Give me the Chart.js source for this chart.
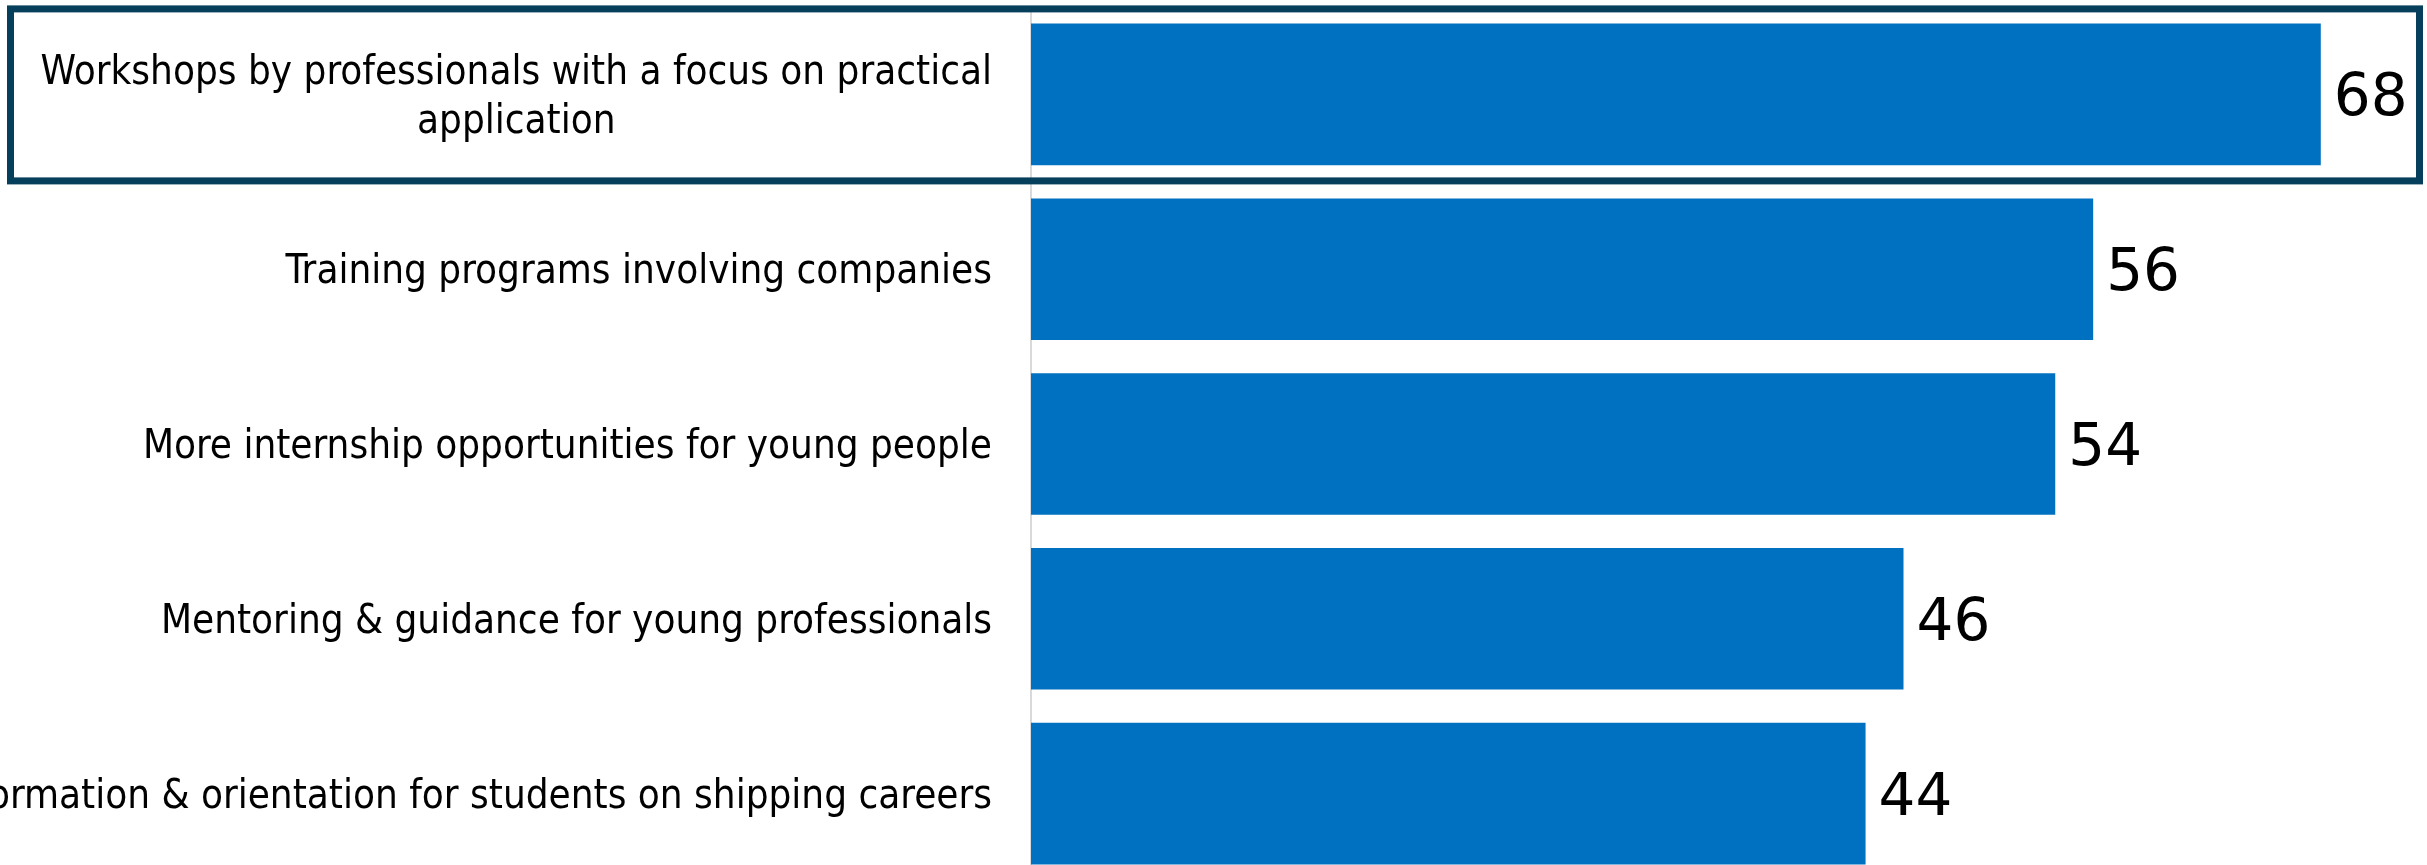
<!DOCTYPE html>
<html>
<head>
    <meta charset="utf-8">
    <title>Measures to attract young people</title>
    <script src="https://cdn.jsdelivr.net/npm/chart.js"></script>
    <style>
        html, body {
            margin: 0;
            padding: 0;
            background: #ffffff;
            overflow: hidden;
        }
        .chart-box {
            position: relative;
            width: 2427px;
            height: 890px;
        }
    </style>
</head>
<body>
    <div class="chart-box">
        <canvas id="barChart"></canvas>
    </div>

    <script>
        // 類別與數值
        const categories = [
            ['Workshops by professionals with a focus on practical', 'application'],
            'Training programs involving companies',
            'More internship opportunities for young people',
            'Mentoring & guidance for young professionals',
            'Information & orientation for students on shipping careers'
        ];
        const values = [68, 56, 54, 46, 44];

        // 被框起來的項目
        const highlighted = [0];

        const labelFont = '40px "Liberation Sans Narrow", "DejaVu Sans Condensed", "Liberation Sans", sans-serif';
        const valueFont = '58px "DejaVu Sans", sans-serif';

        // 左側類別文字 (第一項兩行置中)
        const categoryLabels = {
            id: 'categoryLabels',
            afterDraw(chart) {
                const { ctx } = chart;
                const y = chart.scales.y;
                const right = y.right - 39;
                const lineH = 49;
                ctx.save();
                ctx.font = labelFont;
                ctx.fillStyle = '#000000';
                ctx.textBaseline = 'alphabetic';
                categories.forEach((lab, i) => {
                    const yc = y.getPixelForTick(i);
                    if (Array.isArray(lab)) {
                        const w = Math.max(...lab.map(t => ctx.measureText(t).width));
                        ctx.textAlign = 'center';
                        lab.forEach((t, k) => {
                            ctx.fillText(t, right - w / 2, yc + 14 + (k - (lab.length - 1) / 2) * lineH);
                        });
                    } else {
                        ctx.textAlign = 'right';
                        ctx.fillText(lab, right, yc + 14);
                    }
                });
                ctx.restore();
            }
        };

        // 長條右側的數值
        const valueLabels = {
            id: 'valueLabels',
            afterDatasetsDraw(chart) {
                const { ctx } = chart;
                const meta = chart.getDatasetMeta(0);
                ctx.save();
                ctx.font = valueFont;
                ctx.fillStyle = '#000000';
                ctx.textAlign = 'left';
                ctx.textBaseline = 'alphabetic';
                meta.data.forEach((bar, i) => {
                    ctx.fillText(String(values[i]), bar.x + 13, bar.y + 21);
                });
                ctx.restore();
            }
        };

        // 重點項目外框
        const highlightBox = {
            id: 'highlightBox',
            afterDraw(chart) {
                const { ctx } = chart;
                const y = chart.scales.y;
                ctx.save();
                ctx.strokeStyle = '#053F5C';
                ctx.lineWidth = 7;
                highlighted.forEach(i => {
                    const yc = y.getPixelForTick(i);
                    ctx.strokeRect(10.5, yc - 85.5, chart.width - 18, 172);
                });
                ctx.restore();
            }
        };

        const ctx = document.getElementById('barChart').getContext('2d');
        new Chart(ctx, {
            type: 'bar',
            data: {
                labels: categories,
                datasets: [{
                    data: values,
                    backgroundColor: '#0070C0',
                    borderWidth: 0,
                    barPercentage: 0.81,
                    categoryPercentage: 1.0
                }]
            },
            options: {
                indexAxis: 'y',
                responsive: true,
                maintainAspectRatio: false,
                animation: false,
                layout: {
                    padding: { top: 7, bottom: 9, left: 0, right: 0 }
                },
                plugins: {
                    legend: { display: false },
                    tooltip: { enabled: false }
                },
                scales: {
                    x: {
                        display: false,
                        min: 0,
                        max: 73.6
                    },
                    y: {
                        grid: { display: false },
                        border: { display: true, color: '#d9d9d9', width: 2 },
                        ticks: { display: false },
                        afterFit(scale) {
                            scale.width = 1031;
                        }
                    }
                }
            },
            plugins: [categoryLabels, valueLabels, highlightBox]
        });
    </script>
</body>
</html>
